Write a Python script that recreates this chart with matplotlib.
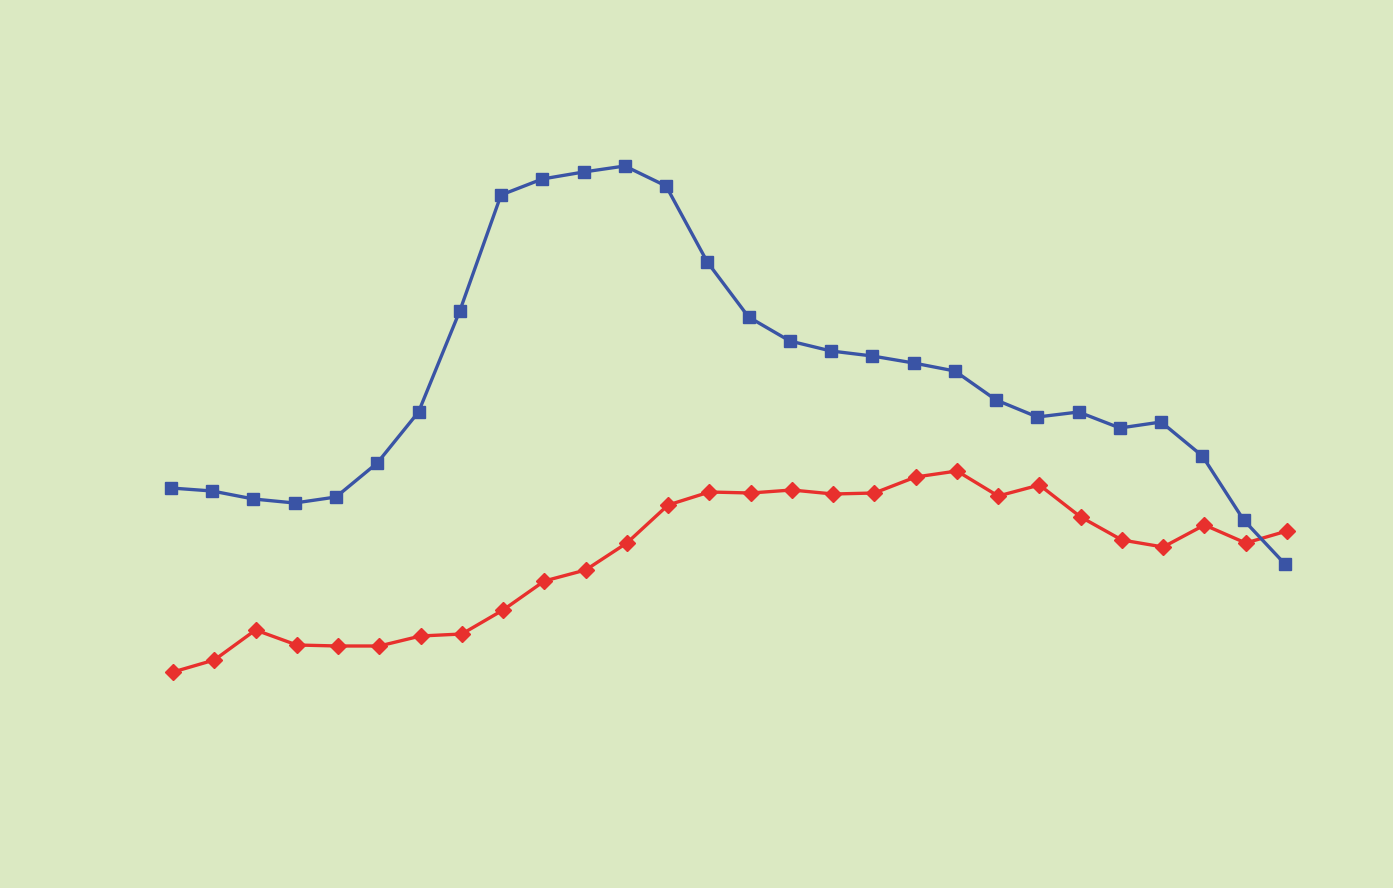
import matplotlib
matplotlib.use("Agg")
import matplotlib.pyplot as plt
import numpy as np

# two series, arbitrary units
points = list(range(28))
blue_vals = [21.2, 20.9, 20.1, 19.7, 20.3, 23.7, 28.8, 38.9, 50.5, 52.1,
             52.8, 53.4, 51.4, 43.8, 38.3, 35.9, 34.9, 34.4, 33.7, 32.9,
             30.0, 28.3, 28.8, 27.2, 27.8, 24.4, 18.0, 13.6]
red_vals = [2.8, 4.0, 7.0, 5.5, 5.4, 5.4, 6.4, 6.6, 9.0, 11.9,
            13.0, 15.7, 19.5, 20.8, 20.7, 21.0, 20.6, 20.7, 22.3, 22.9,
            20.4, 21.5, 18.3, 16.0, 15.3, 17.5, 15.7, 16.9]

bg = "#dbe9c2"
fig = plt.figure(figsize=(13.93, 8.88), dpi=100, facecolor=bg)
ax = fig.add_axes([0, 0, 1, 1])
ax.set_facecolor(bg)

x = np.array(points)
ax.plot(x + 0.05, red_vals, color="#e8302d", lw=2.4, marker="D",
        markersize=8.5, zorder=2)
ax.plot(x, blue_vals, color="#3a54a5", lw=2.4, marker="s",
        markersize=8, zorder=3)

ax.set_xlim(-4.144, 29.62)
ax.set_ylim(-18.8, 70)
ax.axis("off")

fig.savefig("out.png", dpi=100, facecolor=bg)
